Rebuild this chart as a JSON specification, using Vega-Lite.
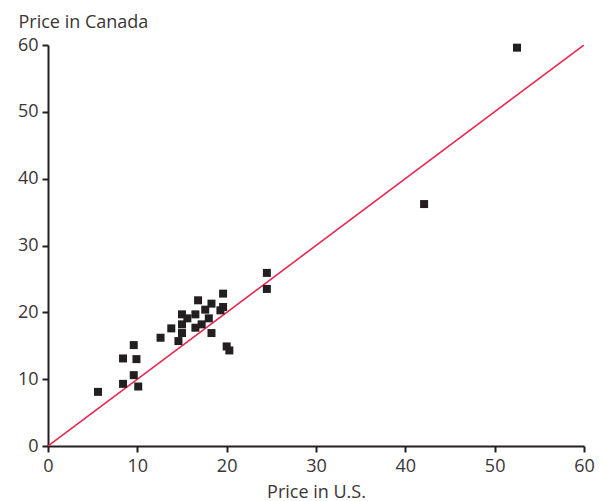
{
  "$schema": "https://vega.github.io/schema/vega-lite/v6.json",
  "width": 536,
  "height": 401,
  "autosize": {"type": "none"},
  "padding": {"left": 48, "top": 45, "right": 19, "bottom": 55},
  "background": "white",
  "config": {
    "view": {"stroke": null},
    "font": "Open Sans",
    "axis": {
      "grid": false,
      "domainColor": "#231f20",
      "domainWidth": 2,
      "tickColor": "#231f20",
      "tickWidth": 2,
      "tickSize": 6,
      "labelFlush": false,
      "labelFont": "Open Sans",
      "labelFontSize": 18,
      "labelFontWeight": "normal",
      "labelColor": "#3a3536",
      "titleFont": "Open Sans",
      "titleFontSize": 18,
      "titleFontWeight": "normal",
      "titleColor": "#3a3536"
    }
  },
  "datasets": {
    "prices": [
      {"us": 52.5, "canada": 59.6},
      {"us": 42.1, "canada": 36.2},
      {"us": 24.5, "canada": 25.9},
      {"us": 24.5, "canada": 23.5},
      {"us": 19.6, "canada": 22.8},
      {"us": 16.8, "canada": 21.8},
      {"us": 18.3, "canada": 21.3},
      {"us": 19.6, "canada": 20.8},
      {"us": 17.6, "canada": 20.4},
      {"us": 19.3, "canada": 20.3},
      {"us": 15.0, "canada": 19.7},
      {"us": 16.5, "canada": 19.7},
      {"us": 15.6, "canada": 19.1},
      {"us": 18.0, "canada": 19.1},
      {"us": 15.0, "canada": 18.2},
      {"us": 17.2, "canada": 18.2},
      {"us": 16.5, "canada": 17.7},
      {"us": 13.8, "canada": 17.6},
      {"us": 15.0, "canada": 16.9},
      {"us": 18.3, "canada": 16.9},
      {"us": 12.6, "canada": 16.2},
      {"us": 14.6, "canada": 15.7},
      {"us": 9.6, "canada": 15.1},
      {"us": 20.0, "canada": 14.9},
      {"us": 20.3, "canada": 14.3},
      {"us": 8.4, "canada": 13.1},
      {"us": 9.9, "canada": 13.0},
      {"us": 9.6, "canada": 10.6},
      {"us": 8.4, "canada": 9.3},
      {"us": 10.1, "canada": 8.9},
      {"us": 5.6, "canada": 8.1}
    ],
    "diag": [
      {"us": 0, "canada": 0},
      {"us": 60, "canada": 60}
    ]
  },
  "layer": [
    {
      "data": {"name": "diag"},
      "mark": {"type": "line", "color": "#e8294f", "strokeWidth": 1.6, "clip": true},
      "encoding": {
        "x": {"field": "us", "type": "quantitative"},
        "y": {"field": "canada", "type": "quantitative"}
      }
    },
    {
      "data": {"name": "prices"},
      "mark": {"type": "point", "shape": "square", "filled": true, "size": 64, "color": "#231f20", "opacity": 1},
      "encoding": {
        "x": {
          "field": "us",
          "type": "quantitative",
          "scale": {"domain": [0, 60], "nice": false},
          "axis": {"values": [0, 10, 20, 30, 40, 50, 60], "title": "Price in U.S.", "titlePadding": 8, "labelPadding": 5}
        },
        "y": {
          "field": "canada",
          "type": "quantitative",
          "scale": {"domain": [0, 60], "nice": false},
          "axis": {
            "values": [0, 10, 20, 30, 40, 50, 60],
            "title": "Price in Canada",
            "titleAngle": 0,
            "titleAlign": "left",
            "titleBaseline": "alphabetic",
            "titleX": -30,
            "titleY": -18,
            "labelPadding": 4
          }
        }
      }
    }
  ]
}
